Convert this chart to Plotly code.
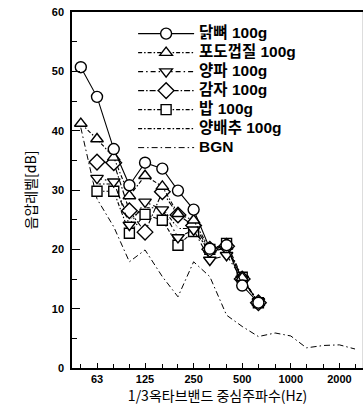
import plotly.graph_objects as go

freqs = [50, 63, 80, 100, 125, 160, 200, 250, 315, 400, 500, 630]
chicken_bone = [50.7, 45.7, 36.9, 30.8, 34.6, 33.6, 29.9, 26.7, 20.1, 20.7, 13.9, 11.0]
grape_peel = [41.2, 38.6, 35.5, 29.0, 32.4, 30.6, 26.0, 24.9, 20.0, 20.5, 15.2, 11.0]
onion = [None, 32.0, 31.4, 24.1, 28.0, 26.7, 22.0, 23.3, 18.2, 19.0, 15.0, 11.2]
potato = [None, 34.7, 34.6, 26.5, 22.9, 29.7, 25.8, 24.0, 20.0, 20.5, 15.0, 11.0]
rice = [None, 29.8, 29.8, 22.7, 25.9, 24.9, 20.7, 23.0, 20.0, 21.0, 15.3, 11.0]
cabbage = [None, 31.0, 31.0, 25.0, 27.0, 27.0, 23.5, 23.5, 19.5, 20.3, 15.0, 11.0]

bgn_freqs = [50, 63, 80, 100, 125, 160, 200, 250, 315, 400, 500, 630, 800, 1000, 1250, 1600, 2000, 2500]
bgn = [40.5, 28.5, 23.8, 17.9, 19.9, 15.4, 12.0, 17.9, 15.4, 8.9, 7.0, 5.3, 5.9, 5.4, 3.4, 3.8, 3.9, 3.2]

names = ["닭뼈 100g", "포도껍질 100g", "양파 100g", "감자 100g", "밥 100g", "양배추 100g", "BGN"]
octave_ticks = [63, 125, 250, 500, 1000, 2000]
third_ticks = [50, 63, 80, 100, 125, 160, 200, 250, 315, 400, 500, 630, 800, 1000, 1250, 1600, 2000, 2500]


def lbl(s):
    return '<span style="font-size:15.5px">' + s + '</span>'


DD = "4px,2px,1.5px,2px"
fig = go.Figure()

fig.add_trace(go.Scatter(x=bgn_freqs, y=bgn, name=lbl(names[6]), mode="lines",
                         line=dict(color="black", width=1.0, dash="6px,3px,1.5px,3px")))

series = [
    (cabbage, names[5], "x-thin-open", 9, DD),
    (rice, names[4], "square", 10, DD),
    (potato, names[3], "diamond", 12, "6px,2px,1.5px,2px"),
    (onion, names[2], "triangle-down", 11, "5px,3px,1.5px,3px"),
    (grape_peel, names[1], "triangle-up", 11, DD),
    (chicken_bone, names[0], "circle", 11, "solid"),
]
for vals, nm, sym, sz, dash in series:
    fig.add_trace(go.Scatter(
        x=freqs, y=vals, name=lbl(nm), mode="lines+markers", connectgaps=False,
        line=dict(color="black", width=1.1, dash=dash),
        marker=dict(symbol=sym, size=sz, color="white",
                    line=dict(color="black", width=1.4))))

xl = 1.6444
xr = xl + 291 / 161.4
fig.update_layout(
    width=363, height=411,
    margin=dict(l=72, r=0, t=12, b=43),
    paper_bgcolor="white", plot_bgcolor="white",
    font=dict(family="Liberation Sans, Noto Sans CJK KR", color="black"),
    showlegend=True,
    legend=dict(x=0.21, y=0.98, xanchor="left", yanchor="top",
                traceorder="reversed", itemwidth=56, bgcolor="rgba(0,0,0,0)",
                font=dict(size=11.6, weight="bold", family="Liberation Sans, Noto Sans CJK KR"),
                tracegroupgap=0),
    xaxis=dict(type="log", range=[xl, xr], showgrid=False, zeroline=False,
               showline=True, linecolor="black", linewidth=1.5, mirror=True,
               tickmode="array", tickvals=octave_ticks,
               ticktext=[str(v) for v in octave_ticks],
               ticks="inside", ticklen=5, tickcolor="black",
               tickfont=dict(size=11, weight="bold"),
               minor=dict(tickmode="array", tickvals=third_ticks, ticks="inside",
                          ticklen=4, tickcolor="black", showgrid=False),
               title=dict(text="1/3옥타브밴드 중심주파수(Hz)", standoff=7,
                          font=dict(size=14, family="Noto Sans CJK KR"))),
    yaxis=dict(range=[0, 60], showgrid=False, zeroline=False,
               showline=True, linecolor="black", linewidth=1.5,
               tickmode="array", tickvals=[0, 10, 20, 30, 40, 50, 60],
               ticks="inside", ticklen=8, tickcolor="black",
               tickfont=dict(size=11, weight="bold"), ticklabelstandoff=4,
               minor=dict(tickmode="array", tickvals=[5, 15, 25, 35, 45, 55],
                          ticks="inside", ticklen=5, tickcolor="black", showgrid=False),
               title=dict(text="음압레벨[dB]", standoff=12,
                          font=dict(size=14, family="Noto Sans CJK KR"))),
)
fig.add_shape(type="line", xref="paper", yref="paper", x0=1, x1=1, y0=0, y1=1,
              line=dict(color="#bbbbbb", width=1))

fig.write_html("out.html")
